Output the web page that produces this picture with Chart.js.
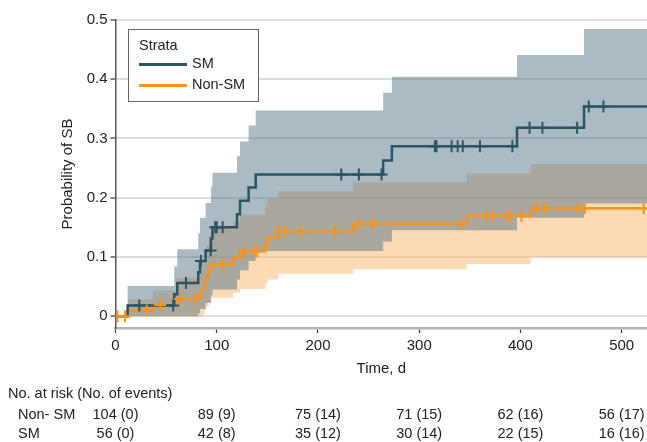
<!DOCTYPE html>
<html>
<head>
<meta charset="utf-8">
<script src="https://cdn.jsdelivr.net/npm/chart.js@4.4.1/dist/chart.umd.min.js"></script>
<style>
  html, body { margin: 0; padding: 0; background: #fff; }
  canvas { display: block; }
</style>
</head>
<body>
<canvas id="chart" width="647" height="442"></canvas>
<script>
// SM stratum: step times (d), cumulative probability and 95% CI
const smTimes = [0, 12, 58, 61, 81.7, 83.5, 89, 94.3, 95.8, 120, 123, 131.5, 138.5, 264.4, 273, 396.6, 462.8, 525];
const smProb  = [0, 0.018, 0.037, 0.056, 0.074, 0.093, 0.111, 0.131, 0.150, 0.172, 0.195, 0.217, 0.239, 0.263, 0.287, 0.318, 0.354, 0.354];
const smUpper = [0, 0.051, 0.084, 0.113, 0.140, 0.166, 0.191, 0.219, 0.242, 0.270, 0.295, 0.322, 0.347, 0.377, 0.404, 0.441, 0.485, 0.485];
const smLower = [0, 0, 0, 0, 0.005, 0.012, 0.022, 0.035, 0.045, 0.062, 0.077, 0.093, 0.110, 0.126, 0.145, 0.166, 0.190, 0.190];
const smCensored = [23.5, 57, 69.6, 84.4, 94, 98.5, 100, 105.8, 223, 240.4, 262.8, 315.5, 317, 332, 338, 343, 360, 392, 409, 421.7, 456, 467.5, 482];

// Non-SM stratum
const nonTimes = [0, 12, 37, 60, 83, 86, 88, 89.5, 92, 94.5, 116, 123, 148, 150, 160.7, 234.8, 346.7, 409.9, 525];
const nonProb  = [0, 0.0096, 0.019, 0.029, 0.0385, 0.048, 0.058, 0.0675, 0.077, 0.087, 0.098, 0.1095, 0.121, 0.132, 0.1435, 0.156, 0.169, 0.182, 0.182];
const nonUpper = [0, 0.028, 0.043, 0.065, 0.08, 0.095, 0.11, 0.12, 0.135, 0.15, 0.16, 0.1715, 0.185, 0.198, 0.211, 0.226, 0.2407, 0.257, 0.257];
const nonLower = [0, 0, 0, 0, 0, 0.003, 0.011, 0.016, 0.024, 0.031, 0.039, 0.046, 0.055, 0.062, 0.0715, 0.079, 0.088, 0.0995, 0.0995];
const nonCensored = [2, 9.4, 30.8, 44, 63.7, 78.5, 105.8, 127, 137, 140, 161, 166.6, 182, 216.7, 240, 254, 342.4, 366.4, 372.3, 387, 389, 401, 415.8, 423.3, 456.3, 463.5, 521.7];

// risk table
const riskTimes = [0, 100, 200, 300, 400, 500];
const nonAtRisk = [104, 89, 75, 71, 62, 56];
const nonEvents = [0, 9, 14, 15, 16, 17];
const smAtRisk  = [56, 42, 35, 30, 22, 16];
const smEvents  = [0, 8, 12, 14, 15, 16];

const xTicks = [0, 100, 200, 300, 400, 500];
const yTicks = [0, 0.1, 0.2, 0.3, 0.4, 0.5];

const SM_COLOR = '#2c5462';
const NON_COLOR = '#f7941d';
const FAMILY = "'Liberation Sans', Arial, sans-serif";

const pts = (xs, ys) => xs.map((x, i) => ({ x: x, y: ys[i] }));
const stepAt = (xs, ys, t) => {
  let v = 0;
  xs.forEach((x, i) => { if (x <= t) v = ys[i]; });
  return v;
};
const censorPts = (cs, xs, ys) => cs.map(t => ({ x: t, y: stepAt(xs, ys, t) }));

const band = (data, extra) => Object.assign({
  data: data, stepped: true, borderWidth: 0, pointRadius: 0, fill: false
}, extra);

// risk table, axis titles and legend box
const extras = {
  id: 'extras',
  afterDraw(chart) {
    const ctx = chart.ctx;
    const xs = chart.scales.x;
    const area = chart.chartArea;
    ctx.save();
    ctx.fillStyle = '#222';
    ctx.textBaseline = 'middle';

    ctx.font = '15px ' + FAMILY;
    ctx.textAlign = 'center';
    ctx.fillText('Time, d', (area.left + area.right) / 2, 369);
    ctx.save();
    ctx.translate(68, (area.top + area.bottom) / 2);
    ctx.rotate(-Math.PI / 2);
    ctx.fillText('Probability of SB', 0, 0);
    ctx.restore();

    ctx.font = '14.5px ' + FAMILY;
    ctx.textAlign = 'left';
    ctx.fillText('No. at risk (No. of events)', 8, 394);
    ctx.fillText('Non- SM', 18, 415);
    ctx.fillText('SM', 18, 434);
    ctx.textAlign = 'center';
    riskTimes.forEach((t, i) => {
      const px = xs.getPixelForValue(t);
      ctx.fillText(nonAtRisk[i] + ' (' + nonEvents[i] + ')', px, 415);
      ctx.fillText(smAtRisk[i] + ' (' + smEvents[i] + ')', px, 434);
    });

    // legend
    ctx.fillStyle = '#fff';
    ctx.fillRect(128.5, 29.5, 130, 72);
    ctx.strokeStyle = '#666';
    ctx.lineWidth = 1;
    ctx.strokeRect(128.5, 29.5, 130, 72);
    ctx.fillStyle = '#222';
    ctx.textAlign = 'left';
    ctx.fillText('Strata', 139, 46);
    ctx.lineWidth = 3;
    ctx.strokeStyle = SM_COLOR;
    ctx.beginPath(); ctx.moveTo(139, 64.5); ctx.lineTo(187, 64.5); ctx.stroke();
    ctx.strokeStyle = NON_COLOR;
    ctx.beginPath(); ctx.moveTo(139, 85.5); ctx.lineTo(187, 85.5); ctx.stroke();
    ctx.fillText('SM', 192, 64);
    ctx.fillText('Non-SM', 192, 85);
    ctx.restore();
  }
};

new Chart(document.getElementById('chart'), {
  type: 'line',
  data: {
    datasets: [
      { type: 'scatter', data: censorPts(smCensored, smTimes, smProb), showLine: false,
        pointStyle: 'cross', pointRadius: 6, borderColor: SM_COLOR, borderWidth: 2 },
      { type: 'scatter', data: censorPts(nonCensored, nonTimes, nonProb), showLine: false,
        pointStyle: 'cross', pointRadius: 6, borderColor: NON_COLOR, borderWidth: 2 },
      { data: pts(smTimes, smProb), stepped: true, borderColor: SM_COLOR, borderWidth: 2.5, pointRadius: 0, fill: false },
      { data: pts(nonTimes, nonProb), stepped: true, borderColor: NON_COLOR, borderWidth: 2.5, pointRadius: 0, fill: false },
      band(pts(smTimes, smUpper), { fill: '+1', backgroundColor: 'rgba(87,119,137,0.5)' }),
      band(pts(smTimes, smLower)),
      band(pts(nonTimes, nonUpper), { fill: '+1', backgroundColor: 'rgba(251,179,105,0.5)' }),
      band(pts(nonTimes, nonLower))
    ]
  },
  options: {
    responsive: false,
    animation: false,
    devicePixelRatio: 1,
    layout: { autoPadding: false, padding: { top: 20, right: 0, left: 0, bottom: 0 } },
    plugins: {
      legend: { display: false },
      tooltip: { enabled: false },
      filler: { drawTime: 'beforeDatasetsDraw' }
    },
    scales: {
      x: {
        type: 'linear', min: 0, max: 525,
        afterBuildTicks: s => { s.ticks = xTicks.map(v => ({ value: v })); },
        afterFit: s => { s.height = 114; s.paddingLeft = 0; s.paddingRight = 0; },
        grid: { drawOnChartArea: false, tickLength: 5, tickColor: '#333', tickWidth: 1.2 },
        border: { color: '#b4b4b4', width: 2.5 },
        ticks: { color: '#222', font: { family: FAMILY, size: 15 }, padding: 4, maxRotation: 0,
          callback: v => String(v) }
      },
      y: {
        type: 'linear', min: -0.02, max: 0.5,
        afterBuildTicks: s => { s.ticks = yTicks.map(v => ({ value: v })); },
        afterFit: s => { s.width = 115.5; s.paddingTop = 0; s.paddingBottom = 0; },
        grid: { color: '#dddddd', lineWidth: 2, tickLength: 5, tickColor: '#333', tickWidth: 1.2 },
        border: { color: '#555', width: 1.5 },
        ticks: { color: '#222', font: { family: FAMILY, size: 15 }, padding: 3,
          callback: v => (v === 0 ? '0' : v.toFixed(1)) }
      }
    }
  },
  plugins: [extras]
});
</script>
</body>
</html>
